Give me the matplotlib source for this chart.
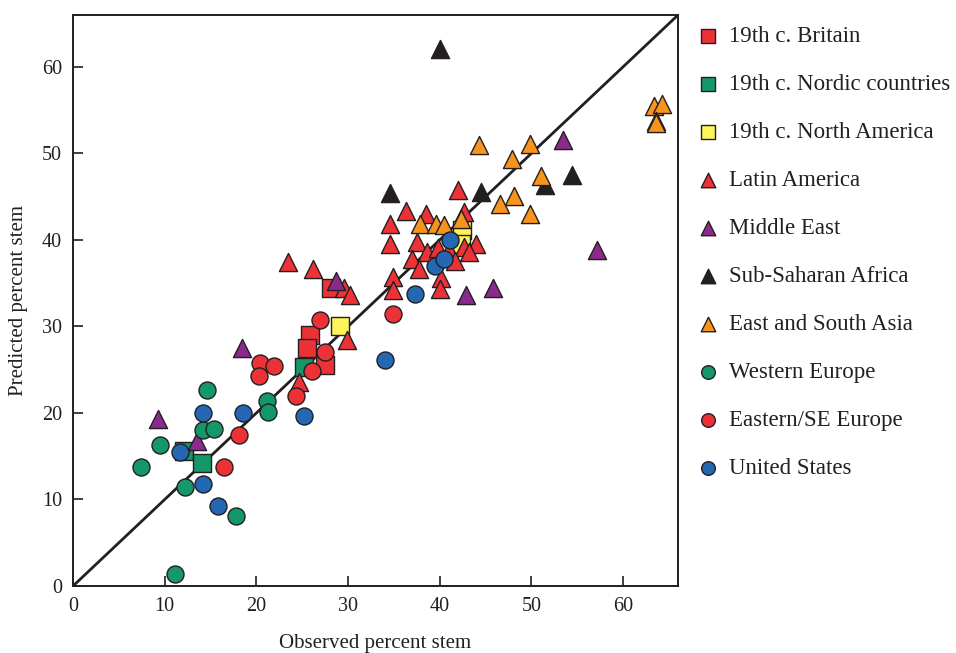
import numpy as np
import matplotlib.pyplot as plt

plt.rcParams['font.family'] = ['Liberation Serif', 'DejaVu Serif']

# observed (x) vs predicted (y) percent stem, by group
britain_x = [28.1, 25.8, 25.5, 27.5]
britain_y = [34.5, 29.0, 27.5, 25.5]

nordic_x = [25.2, 12.1, 14.1]
nordic_y = [25.3, 15.6, 14.2]

namerica_x = [29.1, 42.4, 42.3]
namerica_y = [30.1, 41.1, 39.5]

latam_x = [23.5, 26.2, 29.6, 30.2, 29.9, 24.7, 34.6, 34.6, 36.3, 38.5, 42.0, 42.6,
           37.5, 38.6, 39.8, 37.0, 37.7, 34.9, 34.9, 40.1, 40.0, 41.0, 42.7, 44.0,
           43.2, 41.7]
latam_y = [37.4, 36.6, 34.4, 33.6, 28.4, 23.6, 41.8, 39.5, 43.3, 43.0, 45.8, 43.2,
           39.8, 38.6, 39.1, 37.8, 36.6, 35.7, 34.2, 35.6, 34.3, 38.8, 39.2, 39.5,
           38.6, 37.6]

mideast_x = [9.3, 13.5, 18.4, 28.7, 42.9, 45.8, 53.5, 57.2]
mideast_y = [19.3, 16.8, 27.5, 35.2, 33.6, 34.5, 51.6, 38.8]

africa_x = [40.0, 34.6, 44.5, 51.5, 54.4]
africa_y = [62.1, 45.4, 45.5, 46.3, 47.5]

asia_x = [63.4, 64.3, 63.6, 63.6, 44.3, 49.8, 47.9, 51.1, 48.1, 46.6, 49.8, 37.8,
          39.6, 40.5, 42.3]
asia_y = [55.5, 55.7, 53.8, 53.5, 51.0, 51.1, 49.3, 47.4, 45.1, 44.1, 43.0, 41.9,
          41.8, 41.7, 42.4]

weurope_x = [7.4, 9.5, 14.6, 14.2, 15.4, 12.2, 17.8, 11.1, 21.2, 21.3]
weurope_y = [13.7, 16.3, 22.6, 18.0, 18.1, 11.5, 8.1, 1.4, 21.4, 20.1]

eeurope_x = [18.1, 16.5, 20.4, 21.9, 20.3, 24.3, 26.1, 27.5, 26.9, 34.9]
eeurope_y = [17.5, 13.7, 25.8, 25.4, 24.3, 22.0, 24.8, 27.0, 30.8, 31.4]

us_x = [11.7, 14.2, 18.5, 14.2, 15.8, 25.2, 34.0, 37.3, 39.5, 40.5, 41.1]
us_y = [15.5, 20.0, 20.0, 11.8, 9.2, 19.7, 26.1, 33.8, 37.0, 37.8, 40.0]

red = '#ED3237'
green = '#14986A'
yellow = '#FFF25A'
purple = '#8A2A8C'
black = '#231F20'
orange = '#F7941E'
blue = '#2468B4'

fig = plt.figure(figsize=(9.56, 6.53), dpi=100)
ax = fig.add_axes([0.0764, 0.1026, 0.6328, 0.8744])

ax.plot([0, 66], [0, 66], color=black, lw=2, zorder=1)

groups = [
    (britain_x, britain_y, 's', red, '19th c. Britain'),
    (nordic_x, nordic_y, 's', green, '19th c. Nordic countries'),
    (namerica_x, namerica_y, 's', yellow, '19th c. North America'),
    (latam_x, latam_y, '^', red, 'Latin America'),
    (mideast_x, mideast_y, '^', purple, 'Middle East'),
    (africa_x, africa_y, '^', black, 'Sub-Saharan Africa'),
    (asia_x, asia_y, '^', orange, 'East and South Asia'),
    (weurope_x, weurope_y, 'o', green, 'Western Europe'),
    (eeurope_x, eeurope_y, 'o', red, 'Eastern/SE Europe'),
    (us_x, us_y, 'o', blue, 'United States'),
]
sizes = {'s': 150, '^': 170, 'o': 150}
zs = {'s': 2, '^': 3, 'o': 4}
for x, y, m, c, lab in groups:
    ax.scatter(x, y, marker=m, s=sizes[m], c=c, edgecolors=black,
               linewidths=1.0, zorder=zs[m], label=lab)

ax.set_xlim(0, 66)
ax.set_ylim(0, 66)
ax.set_xticks(range(0, 61, 10))
ax.set_yticks(range(0, 61, 10))
ax.tick_params(direction='in', length=7, width=1.2, labelsize=14.5, color=black,
               labelcolor=black, pad=8)
for sp in ax.spines.values():
    sp.set_linewidth(1.4)
    sp.set_color(black)
ax.set_xlabel('Observed percent stem', fontsize=15, color=black, labelpad=13)
ax.set_ylabel('Predicted percent stem', fontsize=15, color=black, labelpad=10)

handles, labels = ax.get_legend_handles_labels()
leg = fig.legend(handles, labels, loc='upper left', bbox_to_anchor=(0.719, 0.975),
                 frameon=False, fontsize=16.5, labelspacing=1.18, handletextpad=0.42,
                 markerscale=0.8, handlelength=1.0, borderaxespad=0)
for t in leg.get_texts():
    t.set_color(black)

fig.savefig('out.png', dpi=100)
